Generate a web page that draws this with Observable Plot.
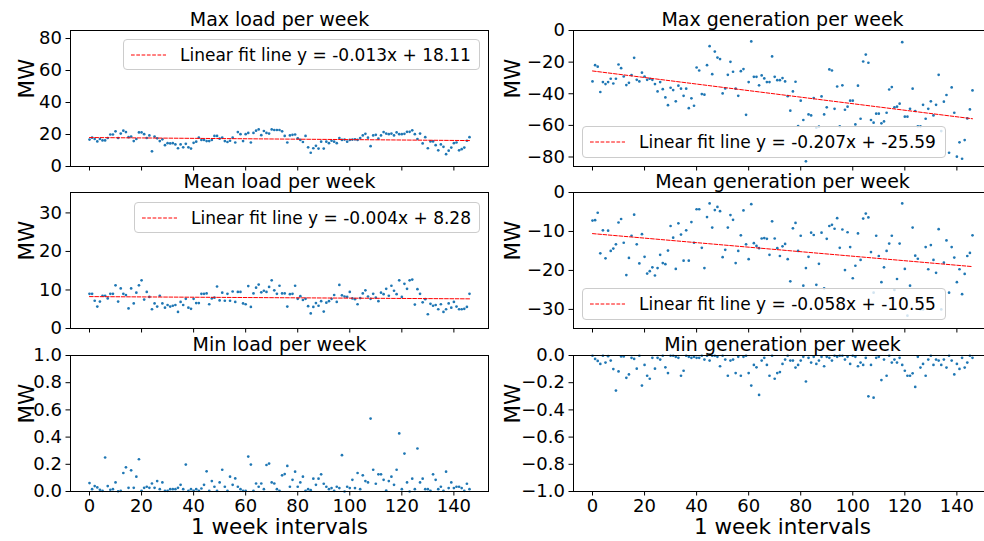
<!DOCTYPE html>
<html><head><meta charset="utf-8">
<script src="https://cdn.jsdelivr.net/npm/d3@7"></script>
<script src="https://cdn.jsdelivr.net/npm/@observablehq/plot@0.6"></script>
<style>
html,body{margin:0;padding:0;background:#fff;overflow:hidden;}
#fig{position:relative;width:984px;height:541px;overflow:hidden;font-family:"DejaVu Sans",sans-serif;background:#fff;}
.legend{position:absolute;box-sizing:border-box;border:1px solid #cccccc;border-radius:4px;background:rgba(255,255,255,0.8);display:flex;align-items:center;font-size:17px;color:#000;white-space:nowrap;padding-left:7px;}
.legend svg{margin-right:14px;flex:none;}
</style></head>
<body><div id="fig"></div>
<script>
// ---------- data ----------
const titles = ["Max load per week","Max generation per week","Mean load per week","Mean generation per week","Min load per week","Min generation per week"];
const yLabel = "MW";
const xLabel = "1 week intervals";
const xTicks = [0,20,40,60,80,100,120,140];
const yTicksMaxLoad = [0,20,40,60,80];
const yTicksMeanLoad = [0,10,20,30];
const yTicksMinLoad = [0,0.2,0.4,0.6,0.8,1.0];
const yTicksMaxGen = [0,-20,-40,-60,-80];
const yTicksMeanGen = [0,-10,-20,-30];
const yTicksMinGen = [0,-0.2,-0.4,-0.6,-0.8,-1.0];
const fitSlopes = [-0.013,-0.207,-0.004,-0.058];
const fitIntercepts = [18.11,-25.59,8.28,-10.55];

const maxLoad = [16.8,18,17.2,15.7,17.2,16.3,16.3,17.8,20,20,
22,17.8,20.6,22.4,21.5,18.3,18.7,15.9,17.2,21.3,
21.3,20.2,17.8,19.4,9.5,18.7,17.6,15.9,17,13.3,
14.6,14.4,14.6,13.8,11.4,13.8,12,14.2,12,11.2,
14.8,15.5,18,16.6,16.6,15.9,15.9,16.6,19.1,19.1,
17.4,18,15.9,15.3,16.1,18,15,21.5,20.2,15.9,
20.2,21,15,21,22.4,23.2,19.6,22.2,21,20.6,
23.2,22.8,22.8,22.8,22,19.1,15,19.4,19.8,20,
17.6,16.6,15.3,19.1,12,8.6,11.4,12.9,11.2,15.5,
11.2,15.5,14.6,16.1,15.5,14.6,17.8,16.6,16.8,15.5,
16.6,16.8,17,16.6,17.8,19.4,20.4,18,12.7,19.4,
19.8,17.4,19.4,21.5,20.6,20.2,20.6,19.4,21.3,20.2,
20.2,20.4,21.7,21.7,22.6,20.2,17.2,20.6,14.4,18.3,
11.4,15.7,15.7,13.3,10.1,13.8,12.3,7.7,9.9,11.8,
14.6,15,10.1,10.8,11.8,16.1,18.3];

const meanLoad = [9.0,9.0,7.2,5.7,7.0,8.5,8.5,7.8,9.0,9.0,
11.2,7.0,10.4,9.0,8.7,5.2,10.4,6.5,9.3,11.2,
12.5,7.5,9.5,8.2,5.0,6.5,5.7,8.5,6.5,5.4,
6.1,5.7,5.9,6.1,4.3,6.9,6.1,7.7,5.4,5.1,
7.7,6.6,6.6,9.0,9.0,9.1,6.3,7.8,8.0,10.9,
7.3,9.3,7.2,9.0,7.2,9.6,6.9,9.5,9.5,6.5,
6.3,11.0,5.6,9.1,10.6,11.4,9.4,9.8,9.5,10.8,
12.5,9.9,9.0,11.1,9.1,9.1,5.7,8.9,9.0,11.1,
7.7,8.4,7.4,7.7,5.8,3.9,5.6,6.6,5.9,7.1,
4.4,6.7,7.1,7.7,8.7,6.9,11.3,8.6,8.3,8.2,
9.5,7.8,7.6,6.3,7.9,9.1,9.9,8.3,7.7,9.0,
8.0,7.1,9.3,8.9,10.3,8.5,11.1,9.8,8.9,12.5,
8.2,11.6,10.3,12.5,12.7,6.2,10.2,9.0,6.8,7.6,
3.7,6.4,5.9,6.1,5.0,6.3,4.3,5.0,6.5,5.4,
6.9,5.7,5.0,5.0,5.1,5.6,9.0];

const minLoad = [0.062,0.017,0.04,0.03,0.012,0.005,0.25,0.04,0.012,0.017,
0.067,0.002,0.005,0.136,0.178,0.027,0.156,0.027,0.109,0.237,
0.005,0.027,0.035,0.027,0.059,0.027,0.077,0.017,0.067,0.005,
0.005,0.017,0.017,0.017,0.027,0.049,0.017,0.198,0.005,0.017,
0.005,0.017,0.005,0.022,0.049,0.148,0.005,0.077,0.035,0.005,
0.067,0.16,0.035,0.005,0.109,0.049,0.096,0.035,0.017,0.005,
0.005,0.257,0.198,0.005,0.059,0.035,0.059,0.017,0.195,0.205,
0.067,0.059,0.017,0.005,0.119,0.128,0.188,0.035,0.086,0.146,
0.035,0.067,0.109,0.005,0.017,0.01,0.094,0.049,0.094,0.126,
0.057,0.035,0.017,0.025,0.005,0.035,0.025,0.267,0,0.035,
0.025,0.086,0.025,0.136,0.017,0.119,0.077,0.067,0.536,0.16,
0.057,0.126,0.126,0.086,0.007,0.077,0.109,0.049,0.16,0.427,
0.017,0.279,0.067,0,0.094,0.017,0.316,0.067,0.094,0.017,
0.017,0.005,0.126,0.086,0.017,0.035,0.005,0.146,0.025,0.067,
0.025,0.035,0.035,0.025,0.005,0.057,0.017];

const maxGen = [-32.2,-21.9,-22.9,-38.9,-32.6,-33.9,-32.6,-30.5,-33.5,-30.5,
-21.5,-23.8,-29.1,-34.5,-33.1,-28.2,-17.3,-31.2,-32.2,-26.7,
-29.1,-31.2,-30.5,-31.2,-33.9,-38.5,-32.6,-37.1,-42.3,-47.2,
-36.2,-37.7,-44.8,-34.9,-36.8,-41.3,-36.8,-49.1,-42.9,-47.6,
-23.4,-25.3,-40.2,-40.6,-21.9,-9.9,-27.6,-13.3,-17.1,-18.1,
-39.8,-36.6,-28.0,-19.8,-26.1,-36.8,-41.3,-25.7,-24.4,-53.3,
-32.6,-6.9,-29.3,-29.3,-34.7,-28.4,-30.3,-32.6,-32.6,-16.4,
-29.3,-31.4,-31.4,-30.1,-32.2,-41.5,-50.7,-38.5,-32.4,-60.4,
-44.4,-56.6,-82.7,-53.1,-53.7,-42.7,-61.5,-60.8,-41.7,-53.1,
-48.6,-24.6,-25.3,-49.5,-35.4,-60.6,-34.7,-50.1,-48.2,-44.4,
-44.4,-59.4,-34.9,-55.8,-19.6,-15.2,-20.4,-56.6,-58.3,-52.6,
-52.6,-58.7,-57.5,-52.0,-37.3,-35.8,-48.6,-48.2,-46.3,-7.4,
-54.5,-54.5,-49.5,-36.8,-50.9,-60.6,-60.6,-47.0,-55.8,-49.5,
-44.8,-53.7,-47.0,-28.0,-63.6,-45.0,-40.8,-77.3,-36.0,-52.0,
-79.8,-70.7,-81.1,-69.3,-55.6,-49.9,-37.9];

const meanGen = [-7.2,-7.1,-5.2,-15.6,-9.7,-16.9,-9.8,-15.0,-14.4,-13.3,
-7.7,-6.8,-12.9,-21.2,-16.8,-11.1,-5.7,-13.3,-18.2,-10.7,
-16.5,-20.8,-20.2,-19.2,-21.3,-19.4,-16.0,-18.1,-18.4,-14.9,
-8.6,-11.6,-19.6,-7.9,-10.8,-17.5,-9.7,-17.5,-7.6,-12.9,
-4.3,-4.3,-14.2,-19.4,-6.3,-2.8,-9.0,-4.5,-3.7,-4.8,
-16.6,-14.7,-9.0,-5.8,-7.0,-18.1,-15.0,-11.0,-4.6,-13.3,
-17.1,-3.0,-13.0,-13.7,-14.3,-11.8,-11.7,-11.9,-16.0,-7.4,
-11.8,-14.3,-16.3,-13.8,-13.2,-17.1,-22.8,-9.2,-7.8,-15.0,
-11.1,-23.9,-19.4,-16.5,-10.3,-10.9,-23.7,-18.3,-10.3,-24.6,
-11.9,-8.6,-8.3,-9.3,-6.6,-14.2,-9.5,-19.9,-10.2,-14.0,
-22.0,-18.8,-10.5,-17.3,-6.7,-5.4,-6.4,-15.3,-25.7,-11.1,
-16.3,-23.0,-19.2,-15.0,-13.1,-11.1,-25.0,-22.2,-13.1,-2.8,
-19.6,-31.6,-23.9,-9.0,-16.2,-17.0,-30.0,-30.0,-14.0,-19.7,
-13.5,-17.3,-20.6,-9.4,-30.0,-18.0,-12.3,-25.7,-14.0,-16.7,
-23.0,-19.7,-26.1,-20.9,-16.3,-15.5,-11.0];

const minGen = [-0.002,-0.025,-0.04,-0.062,-0.002,-0.052,-0.005,-0.037,-0.10,-0.258,
-0.117,-0.007,-0.007,-0.164,-0.139,-0.017,-0.025,-0.097,-0.002,-0.221,
-0.069,-0.149,-0.171,-0.017,-0.097,-0.017,-0.03,-0.002,-0.087,-0.129,
-0.002,-0.002,-0.01,-0.017,-0.149,-0.112,-0.002,-0.01,-0.017,-0.01,
-0.017,-0.017,-0.002,-0.03,-0.002,-0.037,-0.002,-0.002,-0.01,-0.079,
-0.002,-0.03,-0.149,-0.037,-0.03,-0.129,-0.01,-0.149,-0.01,-0.002,
-0.129,-0.221,-0.069,-0.087,-0.29,-0.037,-0.017,-0.069,-0.149,-0.002,
-0.171,-0.129,-0.122,-0.062,-0.03,-0.002,-0.037,-0.037,-0.089,-0.069,
-0.037,-0.01,-0.191,-0.017,-0.052,-0.01,-0.062,-0.037,-0.01,-0.079,
-0.01,-0.017,-0.037,-0.002,-0.01,-0.002,-0.002,-0.03,-0.01,-0.062,
-0.002,-0.01,-0.079,-0.052,-0.069,-0.017,-0.30,-0.069,-0.31,-0.017,
-0.01,-0.181,-0.03,-0.149,-0.002,-0.052,-0.03,-0.052,-0.017,-0.069,
-0.112,-0.149,-0.149,-0.131,-0.231,-0.01,-0.089,-0.062,-0.149,-0.03,
-0.002,-0.069,-0.03,-0.037,-0.069,-0.03,-0.089,-0.002,-0.037,-0.139,
-0.062,-0.099,-0.017,-0.089,-0.052,-0.002,-0.017];

const weeks = d3.range(maxLoad.length);

// ---------- layout ----------
const fig = document.getElementById("fig");
const rowTops = [30, 192, 355];
const frameH = 136;
const panels = [
  {t:0, v:maxLoad,  dom:[0,85],      ticks:yTicksMaxLoad,  fmt:"d",   col:0,row:0, fit:0, leg:{left:123,top:39,width:357,height:31}},
  {t:1, v:maxGen,   dom:[-86,0],     ticks:yTicksMaxGen,   fmt:"d",   col:1,row:0, fit:1, leg:{left:582,top:126,width:364,height:32}},
  {t:2, v:meanLoad, dom:[0,35.3],    ticks:yTicksMeanLoad, fmt:"d",   col:0,row:1, fit:2, leg:{left:134,top:202,width:346,height:31}},
  {t:3, v:meanGen,  dom:[-34.9,0],   ticks:yTicksMeanGen,  fmt:"d",   col:1,row:1, fit:3, leg:{left:582,top:288,width:364,height:32}},
  {t:4, v:minLoad,  dom:[0,1],       ticks:yTicksMinLoad,  fmt:".1f", col:0,row:2, fit:null},
  {t:5, v:minGen,   dom:[-1,0],      ticks:yTicksMinGen,   fmt:".1f", col:1,row:2, fit:null}
];

for (const p of panels) {
  const left = p.col === 0;
  const W = left ? 490 : 500;
  const mL = left ? 70 : 73;
  const mR = left ? 2 : 9;
  const mT = 30;
  const bottomRow = p.row === 2;
  const mB = bottomRow ? 54 : 12;
  const data = p.v.map((v, i) => ({week: weeks[i], value: v}));
  const marks = [
    Plot.dot(data, {x: "week", y: "value", r: 1.35, fill: "#1f77b4", stroke: null})
  ];
  if (p.fit !== null) {
    const m = fitSlopes[p.fit], b = fitIntercepts[p.fit];
    const fitData = [weeks[0], weeks[weeks.length - 1]].map(x => ({week: x, value: m * x + b}));
    marks.push(Plot.line(fitData, {x: "week", y: "value", stroke: "red", strokeWidth: 1, strokeDasharray: "3.7,1.6"}));
  }
  marks.push(Plot.frame({stroke: "#000", strokeWidth: 1}));
  marks.push(Plot.text([titles[p.t]], {text: d => d, frameAnchor: "top", lineAnchor: "middle", dy: -11, fontSize: 19, fill: "#000"}));
  marks.push(Plot.text([yLabel], {text: d => d, frameAnchor: "left", lineAnchor: "middle", rotate: -90, dx: left ? -43 : -60, fontSize: 21.5, fill: "#000"}));
  if (bottomRow) marks.push(Plot.text([xLabel], {text: d => d, frameAnchor: "bottom", lineAnchor: "middle", dy: 36, fontSize: 21.5, fill: "#000"}));
  const svg = Plot.plot({
    width: W, height: mT + frameH + mB,
    marginLeft: mL, marginRight: mR, marginTop: mT, marginBottom: mB,
    style: {fontFamily: "DejaVu Sans", fontSize: "18px", background: "none", overflow: "visible", color: "#000", maxWidth: "none"},
    x: {domain: [-7.3, 153.3], ticks: xTicks, tickFormat: bottomRow ? d3.format("d") : () => "", tickSize: 4.5, tickPadding: 3, label: null},
    y: {domain: p.dom, ticks: p.ticks, tickFormat: d3.format(p.fmt), tickSize: 4.5, tickPadding: 4, label: null},
    marks
  });
  svg.style.position = "absolute";
  svg.style.left = (left ? 0 : 500) + "px";
  svg.style.top = (rowTops[p.row] - mT) + "px";
  fig.appendChild(svg);

  if (p.fit !== null) {
    const m = fitSlopes[p.fit], b = fitIntercepts[p.fit];
    const leg = document.createElement("div");
    leg.className = "legend";
    Object.assign(leg.style, {left: p.leg.left + "px", top: p.leg.top + "px", width: p.leg.width + "px", height: p.leg.height + "px"});
    leg.innerHTML = `<svg width="35" height="4"><line x1="0" y1="2" x2="35" y2="2" stroke="red" stroke-width="1" stroke-dasharray="3.7,1.6"/></svg><span>Linear fit line y = ${m.toFixed(3)}x + ${b.toFixed(2)}</span>`;
    fig.appendChild(leg);
  }
}
</script>
</body></html>
